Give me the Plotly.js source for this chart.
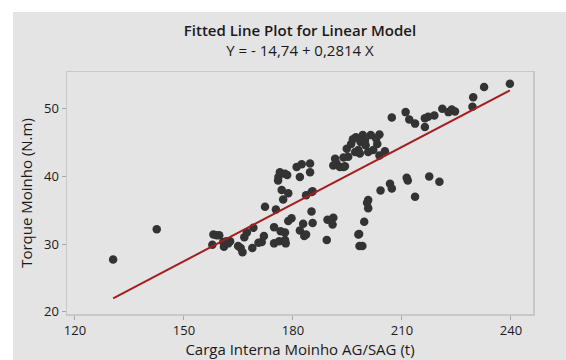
<!DOCTYPE html>
<html>
<head>
<meta charset="utf-8">
<script src="https://cdn.plot.ly/plotly-3.0.1.min.js"></script>
<style>html,body{margin:0;padding:0;background:#fff;}#chart{width:566px;height:360px;}</style>
</head>
<body>
<div id="chart"></div>
<script>
// Carga Interna Moinho AG/SAG (t)
const cargaX = [
  130.5, 142.5, 158.1, 159.0, 157.8, 159.7, 160.8, 161.7, 162.7, 161.0,
  162.2, 164.9, 166.1, 165.6, 166.6, 167.3, 169.1, 168.8, 170.5, 171.4,
  172.0, 172.3, 175.3, 174.8, 174.8, 176.2, 177.8, 178.0, 176.6, 177.8,
  178.7, 179.6, 176.9, 178.7, 177.3, 175.9, 181.9, 182.8, 183.1, 183.6,
  185.1, 185.4, 183.6, 185.4, 189.3, 189.5, 191.1, 190.9, 198.0, 198.3,
  206.7, 207.2, 204.1, 211.6, 213.6, 220.3, 200.7, 200.4, 200.7, 199.6,
  198.2, 199.1, 239.7, 232.6, 229.6, 229.4, 223.7, 224.6, 222.8, 221.1,
  218.9, 217.2, 216.3, 216.3, 213.6, 212.0, 211.0, 207.2, 205.3, 203.8,
  202.9, 203.2, 203.8, 201.4, 199.2, 197.3, 198.6, 199.8, 202.1, 200.7,
  198.0, 197.1, 198.4, 194.8, 195.2, 193.9, 193.9, 211.3, 217.5, 191.6,
  192.0, 192.9, 194.3, 191.1, 184.7, 182.4, 181.0, 181.9, 184.7, 176.4,
  177.8, 176.0, 178.4, 185.1, 196.0, 200.0, 196.5
];
// Torque Moinho (N.m)
const torqueY = [
  27.7, 32.2, 31.4, 31.3, 29.9, 31.3, 30.3, 30.4, 30.4, 29.6,
  30.1, 29.7, 28.8, 29.4, 31.0, 31.7, 32.4, 29.4, 30.2, 30.3,
  31.2, 35.5, 35.1, 32.5, 30.1, 30.4, 30.6, 30.1, 31.9, 31.7,
  33.4, 33.8, 38.0, 37.5, 36.6, 39.4, 32.0, 33.0, 31.2, 31.4,
  34.8, 33.1, 37.2, 37.8, 30.6, 33.6, 33.9, 32.9, 31.4, 29.7,
  38.9, 38.2, 37.9, 39.4, 37.0, 39.2, 36.5, 36.1, 35.3, 33.3,
  31.5, 29.7, 53.7, 53.2, 51.7, 50.3, 49.9, 49.6, 49.5, 50.0,
  49.0, 48.8, 48.6, 47.3, 47.8, 48.4, 49.5, 48.7, 43.7, 46.2,
  45.6, 44.8, 43.1, 46.1, 46.1, 45.8, 45.1, 45.3, 43.9, 43.6,
  43.9, 43.6, 43.4, 44.1, 42.9, 42.8, 41.4, 39.8, 40.0, 42.6,
  41.9, 41.4, 41.5, 41.6, 41.9, 41.8, 41.4, 39.9, 40.6, 40.6,
  40.4, 39.9, 40.2, 37.7, 44.8, 44.6, 45.5
];
const intercept = -14.74;
const slope = 0.2814;
const titleLine1 = "Fitted Line Plot for Linear Model";
const titleLine2 = "Y = - 14,74 + 0,2814 X";
const xTicks = [120, 150, 180, 210, 240];
const yTicks = [20, 30, 40, 50];

const xMin = Math.min(...cargaX), xMax = Math.max(...cargaX);
const fitX = [xMin, xMax];
const fitY = fitX.map(v => intercept + slope * v);

const font = "'Open Sans', 'Noto Sans', sans-serif";

const traces = [
  {
    x: cargaX, y: torqueY, type: 'scatter', mode: 'markers',
    marker: {color: '#333333', size: 8.5, line: {width: 0}},
    hoverinfo: 'skip', cliponaxis: false
  },
  {
    x: fitX, y: fitY, type: 'scatter', mode: 'lines',
    line: {color: '#a51e1e', width: 2},
    hoverinfo: 'skip'
  }
];

const layout = {
  width: 566, height: 360,
  paper_bgcolor: '#ffffff', plot_bgcolor: '#ffffff',
  margin: {l: 67, r: 33, t: 72, b: 46, pad: 0},
  showlegend: false,
  font: {family: font, color: '#1a1a1a', size: 13},
  title: {
    text: '<span style="font-weight:600">' + titleLine1 + '</span><br>' + titleLine2,
    font: {family: font, size: 15, color: '#1a1a1a'},
    x: 300/566, xanchor: 'center', xref: 'container',
    y: 1 - 36/360, yanchor: 'top', yref: 'container'
  },
  xaxis: {
    range: [117.8, 246.06], tickvals: xTicks, ticktext: xTicks.map(String),
    ticks: 'outside', ticklen: 4, tickcolor: '#a8a8a8', tickwidth: 1,
    showgrid: false, zeroline: false,
    showline: true, mirror: true, linecolor: '#c8c8c8', linewidth: 1.5,
    tickfont: {size: 13, color: '#1a1a1a', family: font},
    title: {text: 'Carga Interna Moinho AG/SAG (t)', font: {size: 15, color: '#1a1a1a', family: font}, standoff: 5}
  },
  yaxis: {
    range: [19.66, 55.43], tickvals: yTicks, ticktext: yTicks.map(String),
    ticks: 'outside', ticklen: 4, tickcolor: '#a8a8a8', tickwidth: 1,
    showgrid: false, zeroline: false,
    showline: true, mirror: true, linecolor: '#c8c8c8', linewidth: 1.5,
    tickfont: {size: 13, color: '#1a1a1a', family: font},
    title: {text: 'Torque Moinho (N.m)', font: {size: 15, color: '#1a1a1a', family: font}, standoff: 8}
  },
  shapes: [
    {type: 'rect', xref: 'paper', yref: 'paper', layer: 'below',
     x0: (13-67)/466, x1: (566-67)/466, y0: (314-360)/242, y1: (314-12)/242,
     fillcolor: '#e4e4e4', line: {width: 0}}
  ]
};

Plotly.newPlot('chart', traces, layout, {staticPlot: true, displayModeBar: false});
</script>
</body>
</html>
